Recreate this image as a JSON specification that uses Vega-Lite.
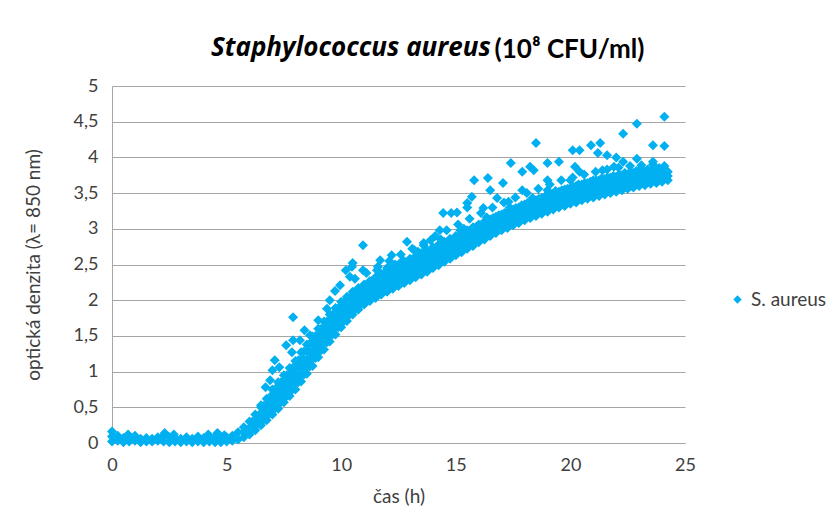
{
  "$schema": "https://vega.github.io/schema/vega-lite/v6.json",
  "width": 573,
  "height": 357,
  "autosize": {"type": "none"},
  "padding": {"left": 112, "top": 86, "right": 152, "bottom": 89},
  "background": "white",
  "title": {"text": "Staphylococcus aureus", "anchor": "start", "frame": "group", "dx": 99, "offset": -25, "fontStyle": "italic", "fontWeight": "bold", "fontSize": 26, "font": "Open Sans", "color": "#000000"},
  "data": {"values": [
    {"t":0,"v":0.02},{"t":0,"v":0.09},{"t":0,"v":0.16},
    {"t":0.25,"v":0.03},{"t":0.25,"v":0.1},
    {"t":0.5,"v":0.01},{"t":0.5,"v":0.07},{"t":0.7,"v":0.12},
    {"t":0.75,"v":0.02},{"t":0.75,"v":0.08},
    {"t":1.0,"v":0.03},{"t":1.0,"v":0.1},
    {"t":1.25,"v":0.01},{"t":1.25,"v":0.06},
    {"t":1.5,"v":0.02},{"t":1.5,"v":0.07},
    {"t":1.75,"v":0.02},{"t":1.75,"v":0.06},
    {"t":2.0,"v":0.03},{"t":2.0,"v":0.08},
    {"t":2.25,"v":0.02},{"t":2.25,"v":0.1},{"t":2.3,"v":0.14},
    {"t":2.5,"v":0.01},{"t":2.5,"v":0.08},{"t":2.7,"v":0.12},
    {"t":2.75,"v":0.02},{"t":2.75,"v":0.07},
    {"t":3.0,"v":0.01},{"t":3.0,"v":0.06},
    {"t":3.25,"v":0.02},{"t":3.25,"v":0.08},
    {"t":3.5,"v":0.01},{"t":3.5,"v":0.06},
    {"t":3.75,"v":0.02},{"t":3.75,"v":0.09},
    {"t":4.0,"v":0.01},{"t":4.0,"v":0.07},{"t":4.2,"v":0.12},
    {"t":4.25,"v":0.02},{"t":4.25,"v":0.06},
    {"t":4.5,"v":0.01},{"t":4.5,"v":0.08},{"t":4.6,"v":0.14},
    {"t":4.75,"v":0.01},{"t":4.75,"v":0.07},{"t":4.9,"v":0.11},
    {"t":5.0,"v":0.02},{"t":5.0,"v":0.08},
    {"t":5.25,"v":0.03},{"t":5.25,"v":0.1},
    {"t":5.5,"v":0.05},{"t":5.5,"v":0.15},
    {"t":5.75,"v":0.08},{"t":5.75,"v":0.15},{"t":5.75,"v":0.22},
    {"t":6.0,"v":0.12},{"t":6.0,"v":0.21},{"t":6.0,"v":0.3},
    {"t":6.25,"v":0.18},{"t":6.25,"v":0.29},{"t":6.25,"v":0.4},
    {"t":6.5,"v":0.25},{"t":6.5,"v":0.33},{"t":6.5,"v":0.42},{"t":6.5,"v":0.5},
    {"t":6.75,"v":0.32},{"t":6.75,"v":0.42},{"t":6.75,"v":0.52},{"t":6.75,"v":0.62},
    {"t":7.0,"v":0.4},{"t":7.0,"v":0.5},{"t":7.0,"v":0.6},{"t":7.0,"v":0.68},{"t":7.0,"v":0.75},
    {"t":7.25,"v":0.48},{"t":7.25,"v":0.57},{"t":7.25,"v":0.66},{"t":7.25,"v":0.75},{"t":7.25,"v":0.85},
    {"t":7.5,"v":0.57},{"t":7.5,"v":0.66},{"t":7.5,"v":0.76},{"t":7.5,"v":0.86},{"t":7.5,"v":0.95},
    {"t":7.75,"v":0.66},{"t":7.75,"v":0.76},{"t":7.75,"v":0.86},{"t":7.75,"v":0.96},{"t":7.75,"v":1.05},
    {"t":8.0,"v":0.75},{"t":8.0,"v":0.85},{"t":8.0,"v":0.95},{"t":8.0,"v":1.05},{"t":8.0,"v":1.15},
    {"t":8.25,"v":0.86},{"t":8.25,"v":0.96},{"t":8.25,"v":1.06},{"t":8.25,"v":1.17},{"t":8.25,"v":1.27},
    {"t":8.5,"v":0.97},{"t":8.5,"v":1.07},{"t":8.5,"v":1.17},{"t":8.5,"v":1.28},{"t":8.5,"v":1.38},
    {"t":8.75,"v":1.08},{"t":8.75,"v":1.18},{"t":8.75,"v":1.28},{"t":8.75,"v":1.39},{"t":8.75,"v":1.49},
    {"t":9.0,"v":1.2},{"t":9.0,"v":1.3},{"t":9.0,"v":1.4},{"t":9.0,"v":1.5},{"t":9.0,"v":1.6},
    {"t":9.25,"v":1.31},{"t":9.25,"v":1.41},{"t":9.25,"v":1.51},{"t":9.25,"v":1.6},{"t":9.25,"v":1.7},
    {"t":9.5,"v":1.42},{"t":9.5,"v":1.52},{"t":9.5,"v":1.61},{"t":9.5,"v":1.7},{"t":9.5,"v":1.8},
    {"t":9.75,"v":1.52},{"t":9.75,"v":1.62},{"t":9.75,"v":1.71},{"t":9.75,"v":1.8},{"t":9.75,"v":1.89},
    {"t":10.0,"v":1.62},{"t":10.0,"v":1.71},{"t":10.0,"v":1.8},{"t":10.0,"v":1.89},{"t":10.0,"v":1.98},
    {"t":10.25,"v":1.71},{"t":10.25,"v":1.8},{"t":10.25,"v":1.88},{"t":10.25,"v":1.96},{"t":10.25,"v":2.05},
    {"t":10.5,"v":1.8},{"t":10.5,"v":1.88},{"t":10.5,"v":1.96},{"t":10.5,"v":2.04},{"t":10.5,"v":2.12},
    {"t":10.75,"v":1.87},{"t":10.75,"v":1.95},{"t":10.75,"v":2.02},{"t":10.75,"v":2.1},{"t":10.75,"v":2.17},
    {"t":11.0,"v":1.94},{"t":11.0,"v":2.01},{"t":11.0,"v":2.08},{"t":11.0,"v":2.15},{"t":11.0,"v":2.22},
    {"t":6.125,"v":0.2},{"t":6.125,"v":0.3},
    {"t":6.375,"v":0.27},{"t":6.375,"v":0.37},
    {"t":6.625,"v":0.33},{"t":6.625,"v":0.43},{"t":6.625,"v":0.52},
    {"t":6.875,"v":0.41},{"t":6.875,"v":0.51},{"t":6.875,"v":0.61},
    {"t":7.125,"v":0.49},{"t":7.125,"v":0.58},{"t":7.125,"v":0.67},{"t":7.125,"v":0.76},
    {"t":7.375,"v":0.57},{"t":7.375,"v":0.66},{"t":7.375,"v":0.76},{"t":7.375,"v":0.85},
    {"t":7.625,"v":0.66},{"t":7.625,"v":0.76},{"t":7.625,"v":0.86},{"t":7.625,"v":0.95},
    {"t":7.875,"v":0.75},{"t":7.875,"v":0.85},{"t":7.875,"v":0.95},{"t":7.875,"v":1.05},
    {"t":8.125,"v":0.85},{"t":8.125,"v":0.95},{"t":8.125,"v":1.06},{"t":8.125,"v":1.16},
    {"t":8.375,"v":0.96},{"t":8.375,"v":1.07},{"t":8.375,"v":1.17},{"t":8.375,"v":1.28},
    {"t":8.625,"v":1.07},{"t":8.625,"v":1.18},{"t":8.625,"v":1.28},{"t":8.625,"v":1.39},
    {"t":8.875,"v":1.19},{"t":8.875,"v":1.29},{"t":8.875,"v":1.39},{"t":8.875,"v":1.5},
    {"t":9.125,"v":1.3},{"t":9.125,"v":1.4},{"t":9.125,"v":1.5},{"t":9.125,"v":1.6},
    {"t":9.375,"v":1.41},{"t":9.375,"v":1.51},{"t":9.375,"v":1.61},{"t":9.375,"v":1.7},
    {"t":9.625,"v":1.52},{"t":9.625,"v":1.61},{"t":9.625,"v":1.71},{"t":9.625,"v":1.8},
    {"t":9.875,"v":1.62},{"t":9.875,"v":1.71},{"t":9.875,"v":1.8},{"t":9.875,"v":1.89},
    {"t":10.125,"v":1.71},{"t":10.125,"v":1.8},{"t":10.125,"v":1.89},{"t":10.125,"v":1.97},
    {"t":10.375,"v":1.8},{"t":10.375,"v":1.88},{"t":10.375,"v":1.96},{"t":10.375,"v":2.04},
    {"t":10.625,"v":1.88},{"t":10.625,"v":1.96},{"t":10.625,"v":2.03},{"t":10.625,"v":2.1},
    {"t":10.875,"v":1.95},{"t":10.875,"v":2.02},{"t":10.875,"v":2.09},{"t":10.875,"v":2.15},
    {"t":11.25,"v":1.99},{"t":11.25,"v":2.08},{"t":11.25,"v":2.18},{"t":11.25,"v":2.27},
    {"t":11.5,"v":2.03},{"t":11.5,"v":2.13},{"t":11.5,"v":2.22},{"t":11.5,"v":2.32},
    {"t":11.75,"v":2.08},{"t":11.75,"v":2.18},{"t":11.75,"v":2.27},{"t":11.75,"v":2.37},
    {"t":12.0,"v":2.12},{"t":12.0,"v":2.22},{"t":12.0,"v":2.32},{"t":12.0,"v":2.42},
    {"t":12.25,"v":2.16},{"t":12.25,"v":2.26},{"t":12.25,"v":2.36},{"t":12.25,"v":2.46},
    {"t":12.5,"v":2.2},{"t":12.5,"v":2.3},{"t":12.5,"v":2.4},{"t":12.5,"v":2.5},
    {"t":12.75,"v":2.24},{"t":12.75,"v":2.34},{"t":12.75,"v":2.44},{"t":12.75,"v":2.54},
    {"t":13.0,"v":2.28},{"t":13.0,"v":2.38},{"t":13.0,"v":2.48},{"t":13.0,"v":2.58},
    {"t":13.25,"v":2.32},{"t":13.25,"v":2.42},{"t":13.25,"v":2.52},{"t":13.25,"v":2.62},
    {"t":13.5,"v":2.36},{"t":13.5,"v":2.46},{"t":13.5,"v":2.56},{"t":13.5,"v":2.66},
    {"t":13.75,"v":2.4},{"t":13.75,"v":2.5},{"t":13.75,"v":2.6},{"t":13.75,"v":2.7},
    {"t":14.0,"v":2.45},{"t":14.0,"v":2.55},{"t":14.0,"v":2.64},{"t":14.0,"v":2.74},
    {"t":14.25,"v":2.49},{"t":14.25,"v":2.59},{"t":14.25,"v":2.68},{"t":14.25,"v":2.78},
    {"t":14.5,"v":2.54},{"t":14.5,"v":2.63},{"t":14.5,"v":2.72},{"t":14.5,"v":2.82},
    {"t":14.75,"v":2.58},{"t":14.75,"v":2.67},{"t":14.75,"v":2.76},{"t":14.75,"v":2.86},
    {"t":15.0,"v":2.63},{"t":15.0,"v":2.72},{"t":15.0,"v":2.81},{"t":15.0,"v":2.9},
    {"t":15.25,"v":2.67},{"t":15.25,"v":2.76},{"t":15.25,"v":2.85},{"t":15.25,"v":2.94},
    {"t":15.5,"v":2.72},{"t":15.5,"v":2.81},{"t":15.5,"v":2.9},{"t":15.5,"v":2.98},
    {"t":15.75,"v":2.76},{"t":15.75,"v":2.85},{"t":15.75,"v":2.94},{"t":15.75,"v":3.02},
    {"t":16.0,"v":2.81},{"t":16.0,"v":2.9},{"t":16.0,"v":2.98},{"t":16.0,"v":3.06},
    {"t":16.25,"v":2.85},{"t":16.25,"v":2.94},{"t":16.25,"v":3.02},{"t":16.25,"v":3.1},
    {"t":16.5,"v":2.9},{"t":16.5,"v":2.98},{"t":16.5,"v":3.06},{"t":16.5,"v":3.13},
    {"t":16.75,"v":2.94},{"t":16.75,"v":3.02},{"t":16.75,"v":3.09},{"t":16.75,"v":3.17},
    {"t":17.0,"v":2.98},{"t":17.0,"v":3.05},{"t":17.0,"v":3.13},{"t":17.0,"v":3.2},
    {"t":17.25,"v":3.01},{"t":17.25,"v":3.09},{"t":17.25,"v":3.16},{"t":17.25,"v":3.24},
    {"t":17.5,"v":3.05},{"t":17.5,"v":3.12},{"t":17.5,"v":3.2},{"t":17.5,"v":3.27},
    {"t":17.75,"v":3.08},{"t":17.75,"v":3.16},{"t":17.75,"v":3.23},{"t":17.75,"v":3.3},
    {"t":18.0,"v":3.12},{"t":18.0,"v":3.19},{"t":18.0,"v":3.27},{"t":18.0,"v":3.34},
    {"t":18.25,"v":3.15},{"t":18.25,"v":3.22},{"t":18.25,"v":3.3},{"t":18.25,"v":3.37},
    {"t":18.5,"v":3.18},{"t":18.5,"v":3.25},{"t":18.5,"v":3.33},{"t":18.5,"v":3.4},
    {"t":18.75,"v":3.21},{"t":18.75,"v":3.28},{"t":18.75,"v":3.36},{"t":18.75,"v":3.43},
    {"t":19.0,"v":3.24},{"t":19.0,"v":3.31},{"t":19.0,"v":3.39},{"t":19.0,"v":3.46},
    {"t":19.25,"v":3.27},{"t":19.25,"v":3.34},{"t":19.25,"v":3.42},{"t":19.25,"v":3.49},
    {"t":19.5,"v":3.3},{"t":19.5,"v":3.37},{"t":19.5,"v":3.45},{"t":19.5,"v":3.52},
    {"t":19.75,"v":3.32},{"t":19.75,"v":3.4},{"t":19.75,"v":3.47},{"t":19.75,"v":3.55},
    {"t":20.0,"v":3.35},{"t":20.0,"v":3.42},{"t":20.0,"v":3.5},{"t":20.0,"v":3.57},
    {"t":20.25,"v":3.37},{"t":20.25,"v":3.45},{"t":20.25,"v":3.52},{"t":20.25,"v":3.6},
    {"t":20.5,"v":3.4},{"t":20.5,"v":3.47},{"t":20.5,"v":3.55},{"t":20.5,"v":3.62},
    {"t":20.75,"v":3.42},{"t":20.75,"v":3.49},{"t":20.75,"v":3.57},{"t":20.75,"v":3.64},
    {"t":21.0,"v":3.44},{"t":21.0,"v":3.51},{"t":21.0,"v":3.59},{"t":21.0,"v":3.66},
    {"t":21.25,"v":3.46},{"t":21.25,"v":3.53},{"t":21.25,"v":3.61},{"t":21.25,"v":3.68},
    {"t":21.5,"v":3.48},{"t":21.5,"v":3.55},{"t":21.5,"v":3.63},{"t":21.5,"v":3.7},
    {"t":21.75,"v":3.5},{"t":21.75,"v":3.57},{"t":21.75,"v":3.65},{"t":21.75,"v":3.72},
    {"t":22.0,"v":3.52},{"t":22.0,"v":3.59},{"t":22.0,"v":3.66},{"t":22.0,"v":3.73},
    {"t":22.25,"v":3.54},{"t":22.25,"v":3.61},{"t":22.25,"v":3.68},{"t":22.25,"v":3.75},
    {"t":22.5,"v":3.56},{"t":22.5,"v":3.63},{"t":22.5,"v":3.7},{"t":22.5,"v":3.76},
    {"t":22.75,"v":3.58},{"t":22.75,"v":3.65},{"t":22.75,"v":3.72},{"t":22.75,"v":3.78},
    {"t":23.0,"v":3.6},{"t":23.0,"v":3.66},{"t":23.0,"v":3.73},{"t":23.0,"v":3.79},
    {"t":23.25,"v":3.61},{"t":23.25,"v":3.68},{"t":23.25,"v":3.74},{"t":23.25,"v":3.8},
    {"t":23.5,"v":3.63},{"t":23.5,"v":3.69},{"t":23.5,"v":3.75},{"t":23.5,"v":3.81},
    {"t":23.75,"v":3.64},{"t":23.75,"v":3.71},{"t":23.75,"v":3.77},{"t":23.75,"v":3.82},
    {"t":24.0,"v":3.66},{"t":24.0,"v":3.72},{"t":24.0,"v":3.78},{"t":24.0,"v":3.83},
    {"t":24.25,"v":3.68},{"t":24.25,"v":3.74},{"t":24.25,"v":3.8},
    {"t":11.125,"v":2.01},{"t":11.125,"v":2.1},{"t":11.125,"v":2.2},
    {"t":11.375,"v":2.06},{"t":11.375,"v":2.15},{"t":11.375,"v":2.24},
    {"t":11.625,"v":2.1},{"t":11.625,"v":2.2},{"t":11.625,"v":2.29},
    {"t":11.875,"v":2.15},{"t":11.875,"v":2.24},{"t":11.875,"v":2.33},
    {"t":12.125,"v":2.19},{"t":12.125,"v":2.28},{"t":12.125,"v":2.37},
    {"t":12.375,"v":2.23},{"t":12.375,"v":2.32},{"t":12.375,"v":2.41},
    {"t":12.625,"v":2.27},{"t":12.625,"v":2.36},{"t":12.625,"v":2.45},
    {"t":12.875,"v":2.31},{"t":12.875,"v":2.4},{"t":12.875,"v":2.49},
    {"t":13.125,"v":2.35},{"t":13.125,"v":2.44},{"t":13.125,"v":2.53},
    {"t":13.375,"v":2.39},{"t":13.375,"v":2.48},{"t":13.375,"v":2.57},
    {"t":13.625,"v":2.43},{"t":13.625,"v":2.52},{"t":13.625,"v":2.61},
    {"t":13.875,"v":2.47},{"t":13.875,"v":2.56},{"t":13.875,"v":2.66},
    {"t":14.125,"v":2.52},{"t":14.125,"v":2.61},{"t":14.125,"v":2.7},
    {"t":14.375,"v":2.56},{"t":14.375,"v":2.65},{"t":14.375,"v":2.75},
    {"t":14.625,"v":2.61},{"t":14.625,"v":2.7},{"t":14.625,"v":2.79},
    {"t":14.875,"v":2.65},{"t":14.875,"v":2.75},{"t":14.875,"v":2.84},
    {"t":15.125,"v":2.7},{"t":15.125,"v":2.79},{"t":15.125,"v":2.88},
    {"t":15.375,"v":2.74},{"t":15.375,"v":2.83},{"t":15.375,"v":2.93},
    {"t":15.625,"v":2.79},{"t":15.625,"v":2.88},{"t":15.625,"v":2.97},
    {"t":15.875,"v":2.83},{"t":15.875,"v":2.92},{"t":15.875,"v":3.02},
    {"t":16.125,"v":2.88},{"t":16.125,"v":2.97},{"t":16.125,"v":3.06},
    {"t":16.375,"v":2.92},{"t":16.375,"v":3.01},{"t":16.375,"v":3.1},
    {"t":16.625,"v":2.97},{"t":16.625,"v":3.06},{"t":16.625,"v":3.15},
    {"t":16.875,"v":3.0},{"t":16.875,"v":3.1},{"t":16.875,"v":3.19},
    {"t":17.125,"v":3.04},{"t":17.125,"v":3.13},{"t":17.125,"v":3.22},
    {"t":17.375,"v":3.07},{"t":17.375,"v":3.17},{"t":17.375,"v":3.26},
    {"t":17.625,"v":3.11},{"t":17.625,"v":3.2},{"t":17.625,"v":3.29},
    {"t":17.875,"v":3.14},{"t":17.875,"v":3.24},{"t":17.875,"v":3.33},
    {"t":18.125,"v":3.18},{"t":18.125,"v":3.27},{"t":18.125,"v":3.36},
    {"t":18.375,"v":3.21},{"t":18.375,"v":3.3},{"t":18.375,"v":3.39},
    {"t":18.625,"v":3.24},{"t":18.625,"v":3.33},{"t":18.625,"v":3.42},
    {"t":18.875,"v":3.27},{"t":18.875,"v":3.36},{"t":18.875,"v":3.45},
    {"t":19.125,"v":3.3},{"t":19.125,"v":3.39},{"t":19.125,"v":3.48},
    {"t":19.375,"v":3.33},{"t":19.375,"v":3.42},{"t":19.375,"v":3.51},
    {"t":19.625,"v":3.35},{"t":19.625,"v":3.45},{"t":19.625,"v":3.54},
    {"t":19.875,"v":3.38},{"t":19.875,"v":3.47},{"t":19.875,"v":3.56},
    {"t":20.125,"v":3.4},{"t":20.125,"v":3.5},{"t":20.125,"v":3.59},
    {"t":20.375,"v":3.43},{"t":20.375,"v":3.52},{"t":20.375,"v":3.61},
    {"t":20.625,"v":3.45},{"t":20.625,"v":3.55},{"t":20.625,"v":3.64},
    {"t":20.875,"v":3.47},{"t":20.875,"v":3.57},{"t":20.875,"v":3.66},
    {"t":21.125,"v":3.49},{"t":21.125,"v":3.59},{"t":21.125,"v":3.68},
    {"t":21.375,"v":3.51},{"t":21.375,"v":3.61},{"t":21.375,"v":3.7},
    {"t":21.625,"v":3.53},{"t":21.625,"v":3.63},{"t":21.625,"v":3.72},
    {"t":21.875,"v":3.55},{"t":21.875,"v":3.65},{"t":21.875,"v":3.74},
    {"t":22.125,"v":3.57},{"t":22.125,"v":3.67},{"t":22.125,"v":3.76},
    {"t":22.375,"v":3.59},{"t":22.375,"v":3.69},{"t":22.375,"v":3.78},
    {"t":22.625,"v":3.61},{"t":22.625,"v":3.71},{"t":22.625,"v":3.8},
    {"t":22.875,"v":3.63},{"t":22.875,"v":3.73},{"t":22.875,"v":3.81},
    {"t":23.125,"v":3.65},{"t":23.125,"v":3.74},{"t":23.125,"v":3.82},
    {"t":23.375,"v":3.66},{"t":23.375,"v":3.75},{"t":23.375,"v":3.83},
    {"t":23.625,"v":3.68},{"t":23.625,"v":3.77},{"t":23.625,"v":3.84},
    {"t":23.875,"v":3.69},{"t":23.875,"v":3.78},{"t":23.875,"v":3.85},
    {"t":24.125,"v":3.71},{"t":24.125,"v":3.8},
    {"t":10.6,"v":2.3},{"t":11.1,"v":2.38},{"t":11.6,"v":2.47},{"t":12.1,"v":2.55},{"t":12.6,"v":2.64},
    {"t":13.1,"v":2.72},{"t":13.6,"v":2.8},{"t":14.1,"v":2.9},{"t":14.6,"v":2.98},{"t":15.1,"v":3.06},
    {"t":15.6,"v":3.14},{"t":16.1,"v":3.22},{"t":16.6,"v":3.3},{"t":17.1,"v":3.37},{"t":17.6,"v":3.44},
    {"t":18.1,"v":3.5},{"t":18.6,"v":3.56},{"t":19.1,"v":3.62},{"t":19.6,"v":3.68},{"t":20.1,"v":3.72},
    {"t":20.6,"v":3.76},{"t":21.1,"v":3.8},{"t":21.6,"v":3.83},{"t":22.1,"v":3.86},{"t":22.6,"v":3.88},
    {"t":23.1,"v":3.89},{"t":23.6,"v":3.9},{"t":24.1,"v":3.88},
    {"t":12.35,"v":2.5},{"t":13.35,"v":2.68},{"t":14.35,"v":2.85},{"t":15.35,"v":3.0},{"t":16.35,"v":3.16},
    {"t":17.35,"v":3.3},{"t":18.35,"v":3.43},{"t":19.35,"v":3.53},{"t":20.35,"v":3.62},{"t":21.35,"v":3.7},
    {"t":22.35,"v":3.76},{"t":23.35,"v":3.8},
    {"t":6.5,"v":0.53},{"t":6.7,"v":0.78},{"t":6.9,"v":0.88},{"t":7.0,"v":1.02},{"t":7.1,"v":1.16},
    {"t":7.3,"v":1.06},{"t":7.6,"v":1.37},{"t":7.85,"v":1.27},{"t":7.9,"v":1.44},{"t":7.9,"v":1.76},
    {"t":8.2,"v":1.44},{"t":8.4,"v":1.58},{"t":8.64,"v":1.51},{"t":9.0,"v":1.72},{"t":9.38,"v":1.88},
    {"t":9.5,"v":2.0},{"t":9.73,"v":2.13},{"t":9.95,"v":2.21},{"t":10.2,"v":2.42},{"t":10.38,"v":2.33},
    {"t":10.47,"v":2.47},{"t":10.5,"v":2.52},{"t":10.95,"v":2.77},{"t":10.95,"v":2.42},{"t":11.56,"v":2.42},
    {"t":11.7,"v":2.56},{"t":12.0,"v":2.45},{"t":12.2,"v":2.63},{"t":12.7,"v":2.56},{"t":12.87,"v":2.82},
    {"t":13.2,"v":2.7},{"t":13.6,"v":2.77},{"t":13.9,"v":2.84},{"t":14.3,"v":2.98},{"t":14.45,"v":3.22},
    {"t":14.8,"v":3.22},{"t":15.05,"v":3.23},{"t":15.2,"v":2.98},{"t":15.5,"v":3.36},{"t":15.5,"v":3.3},
    {"t":15.7,"v":3.45},{"t":15.8,"v":3.68},{"t":16.2,"v":3.29},{"t":16.4,"v":3.71},{"t":16.5,"v":3.54},
    {"t":16.8,"v":3.43},{"t":17.06,"v":3.64},{"t":17.3,"v":3.38},{"t":17.4,"v":3.92},{"t":17.9,"v":3.8},
    {"t":17.9,"v":3.54},{"t":18.24,"v":3.87},{"t":18.4,"v":3.82},{"t":18.5,"v":4.2},{"t":19.0,"v":3.92},
    {"t":19.0,"v":3.68},{"t":19.0,"v":3.54},{"t":19.5,"v":3.94},{"t":20.0,"v":3.68},{"t":20.1,"v":4.1},
    {"t":20.2,"v":3.87},{"t":20.4,"v":4.1},{"t":20.4,"v":3.8},{"t":20.9,"v":4.17},{"t":21.0,"v":3.68},
    {"t":21.2,"v":4.06},{"t":21.3,"v":4.2},{"t":21.4,"v":3.82},{"t":21.6,"v":4.03},{"t":21.9,"v":3.87},
    {"t":22.0,"v":4.0},{"t":22.3,"v":4.33},{"t":22.3,"v":3.94},{"t":22.9,"v":4.47},{"t":22.9,"v":3.98},
    {"t":23.0,"v":3.82},{"t":23.6,"v":4.17},{"t":23.6,"v":3.94},{"t":24.1,"v":4.57},{"t":24.1,"v":4.16},
    {"t":24.2,"v":3.8}
  ]},
  "layer": [
    {
      "mark": {"type": "point", "shape": "diamond", "filled": true, "size": 100, "opacity": 1},
      "encoding": {
        "x": {"field": "t", "type": "quantitative", "scale": {"domain": [0, 25], "nice": false},
              "axis": {"values": [0, 5, 10, 15, 20, 25], "labelFlush": false, "grid": false, "ticks": false, "title": "čas (h)", "labelPadding": 13, "titlePadding": 13, "domainColor": "#A6A6A6"}},
        "y": {"field": "v", "type": "quantitative", "scale": {"domain": [0, 5], "nice": false},
              "axis": {"values": [0, 0.5, 1, 1.5, 2, 2.5, 3, 3.5, 4, 4.5, 5], "format": "~g", "labelExpr": "replace(datum.label, '.', ',')", "grid": true, "gridColor": "#A6A6A6", "ticks": false, "title": "optická denzita (λ= 850 nm)", "labelPadding": 14, "titlePadding": 30, "domainColor": "#A6A6A6"}},
        "color": {"datum": "S. aureus", "scale": {"range": ["#00B0F0"]},
                  "legend": {"orient": "none", "legendX": 616, "legendY": 204, "title": null, "symbolType": "diamond", "symbolSize": 70, "labelFontSize": 19, "labelFont": "Lato", "labelColor": "#404040"}}
      }
    },
    {
      "mark": {"type": "point", "opacity": 0},
      "encoding": {
        "x": {"field": "t", "type": "quantitative", "scale": {"domain": [0, 25], "nice": false},
              "axis": {"orient": "top", "labels": false, "ticks": false, "domain": false, "grid": false, "title": "(10⁸ CFU/ml)", "titleFont": "Lato", "titleFontWeight": "bold", "titleFontSize": 26, "titleColor": "#000000", "titleX": 457, "titleY": -29, "titleAlign": "center", "titleBaseline": "alphabetic"}}
      }
    }
  ],
  "resolve": {"axis": {"x": "independent"}},
  "config": {
    "font": "Lato",
    "view": {"stroke": null},
    "axis": {"labelFont": "Lato", "labelFontSize": 18, "labelColor": "#404040", "titleFont": "Lato", "titleFontSize": 19, "titleColor": "#404040", "titleFontWeight": "normal"}
  }
}
